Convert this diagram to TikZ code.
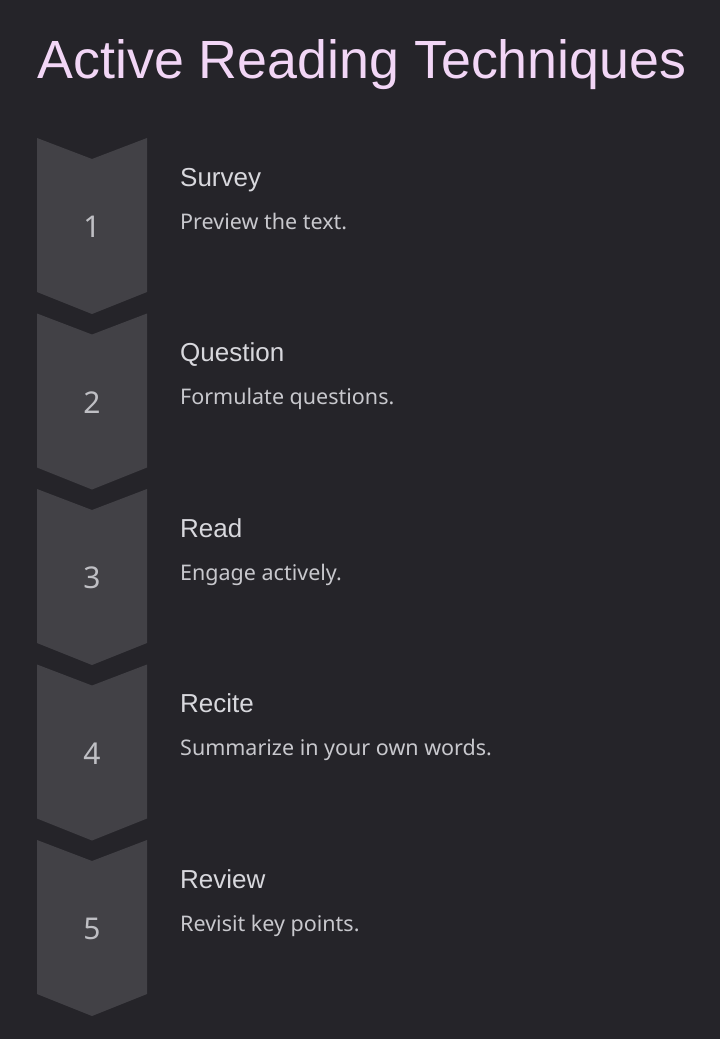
\documentclass[tikz,border=0pt]{standalone}
\usepackage{fontspec}
\setmainfont{Liberation Sans}
\newfontfamily\descfont{Noto Sans}
\usetikzlibrary{positioning}
\definecolor{bgdark}{HTML}{252429}
\definecolor{chevfill}{HTML}{424146}
\definecolor{titlepink}{HTML}{F2D6F6}
\definecolor{headgray}{HTML}{D8D8DD}
\definecolor{descgray}{HTML}{C8C8CD}
\definecolor{numgray}{HTML}{BFBFC4}
\tikzset{
% stepchevron/.style={fill=chevfill},
  numlabel/.style={text=numgray, font=\descfont\fontsize{30}{32}\selectfont},
  headlabel/.style={anchor=base west, inner sep=0pt, text=headgray, font=\fontsize{26}{28}\selectfont},
  desclabel/.style={anchor=base west, inner sep=0pt, text=descgray, font=\descfont\fontsize{21.5}{24}\selectfont},
}

\begin{document}
\begin{tikzpicture}[x=1pt, y=-1pt]
\fill[bgdark] (0,0) rectangle (720,1039);
\useasboundingbox (0,0) rectangle (720,1039);

% Title
\node (title) at (362,78) [anchor=base, inner sep=0pt, text=titlepink, font=\fontsize{53.8}{60}\selectfont] {Active Reading Techniques};

% Steps
\foreach \i/\name/\desc in {1/Survey/Preview the text., 2/Question/Formulate questions., 3/Read/Engage actively., 4/Recite/Summarize in your own words., 5/Review/Revisit key points.} {
  \pgfmathsetmacro{\ytop}{138+175.5*(\i-1)}
  \fill[chevfill] (37,\ytop) -- (92,\ytop+21) -- (147,\ytop) -- (147,\ytop+154) -- (92,\ytop+176) -- (37,\ytop+154) -- cycle;
  \node (num\i) at (92,\ytop+89) [numlabel] {\i};
  \node (head\i) at (180,\ytop+48) [headlabel] {\name};
  \node (desc\i) at (180,\ytop+91) [desclabel] {\desc};
}

\end{tikzpicture}
\end{document}
